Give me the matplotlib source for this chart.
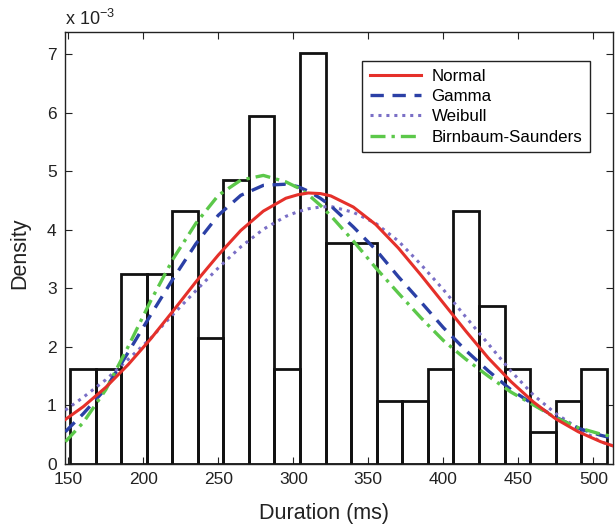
import numpy as np
import matplotlib
matplotlib.use("Agg")
from matplotlib import pyplot as plt

plt.rcParams["font.family"] = ["Liberation Sans", "DejaVu Sans"]
plt.rcParams["mathtext.default"] = "regular"

# histogram of durations (density, x 10^-3)
bin_left = 151.1
bin_width = 17.04
density = [1.62, 1.62, 3.24, 3.24, 4.32, 2.16, 4.86, 5.94, 1.62, 7.02, 3.78,
           3.78, 1.08, 1.08, 1.62, 4.32, 2.70, 1.62, 0.54, 1.08, 1.62]

# fitted pdfs (x 10^-3)
x_fit = [148, 160, 175, 190, 205, 220, 235, 250, 265, 280, 295, 303, 310,
         318, 325, 340, 355, 370, 385, 400, 415, 430, 445, 460, 475, 490,
         505, 513]
normal = [0.76, 0.98, 1.31, 1.70, 2.14, 2.62, 3.11, 3.57, 3.99, 4.32, 4.54,
          4.60, 4.63, 4.62, 4.58, 4.39, 4.09, 3.69, 3.23, 2.75, 2.27, 1.81,
          1.41, 1.06, 0.77, 0.55, 0.38, 0.31]
gamma = [0.55, 0.86, 1.29, 1.91, 2.55, 3.17, 3.76, 4.25, 4.59, 4.76, 4.78,
         4.74, 4.66, 4.54, 4.41, 4.05, 3.66, 3.20, 2.77, 2.33, 1.94, 1.59,
         1.27, 1.02, 0.80, 0.61, 0.49, 0.44]
weibull = [0.92, 1.14, 1.44, 1.79, 2.15, 2.56, 2.96, 3.35, 3.71, 4.01, 4.23,
           4.31, 4.36, 4.39, 4.40, 4.30, 4.11, 3.81, 3.41, 2.98, 2.51, 2.05,
           1.59, 1.18, 0.86, 0.61, 0.38, 0.31]
birnbaum = [0.38, 0.71, 1.27, 2.01, 2.79, 3.51, 4.11, 4.59, 4.85, 4.93, 4.82,
            4.72, 4.60, 4.42, 4.24, 3.81, 3.35, 2.92, 2.50, 2.11, 1.79, 1.50,
            1.23, 1.01, 0.79, 0.62, 0.51, 0.47]

x_ticks = [150, 200, 250, 300, 350, 400, 450, 500]
y_ticks = [0, 1, 2, 3, 4, 5, 6, 7]

fig = plt.figure(figsize=(6.15, 5.25), dpi=100)
ax = fig.add_axes([65 / 615, 61 / 525, 548.3 / 615, 432 / 525])

lefts = bin_left + bin_width * np.arange(len(density))
ax.bar(lefts, density, width=bin_width, align="edge", fill=False,
       edgecolor="#111111", linewidth=2.0, zorder=2)

ax.plot(x_fit, normal, color="#e5302a", lw=2.2, label="Normal", zorder=6)
ax.plot(x_fit, gamma, color="#2b40a6", lw=2.4, ls=(0, (4, 2.6)),
        label="Gamma", zorder=4)
ax.plot(x_fit, weibull, color="#7a6fc6", lw=2.2, ls=(0, (1, 1.6)),
        label="Weibull", zorder=3)
ax.plot(x_fit, birnbaum, color="#5cc84a", lw=2.4, ls=(0, (4.5, 1.8, 1, 1.8)),
        label="Birnbaum-Saunders", zorder=5)

ax.set_xlim(147.8, 513.3)
ax.set_ylim(0, 7.38)
ax.set_xticks(x_ticks)
ax.set_yticks(y_ticks)
ax.tick_params(direction="in", length=5, width=0.8, top=True, right=True,
               labelsize=12.5, pad=6, colors="#222222")
for sp in ax.spines.values():
    sp.set_linewidth(1.0)
    sp.set_color("#222222")

leg = ax.legend(loc="upper right", bbox_to_anchor=(0.9575, 0.933),
                borderaxespad=0, fancybox=False, framealpha=1,
                edgecolor="#222222", fontsize=12.2, handlelength=3.0,
                handletextpad=0.65, labelspacing=0.32, borderpad=0.45)
leg.get_frame().set_linewidth(1.0)

fig.text(65 / 615, 1 - 25 / 525, "x 10$^{-3}$", fontsize=13,
         ha="left", va="baseline", color="#222222")
fig.text(324 / 615, 1 - 519 / 525, "Duration (ms)", fontsize=15.5,
         ha="center", va="baseline", color="#222222")
fig.text(20 / 615, 1 - 253 / 525, "Density", fontsize=15.5, rotation=90,
         ha="center", va="center", color="#222222")

fig.savefig("out.png", dpi=100)
